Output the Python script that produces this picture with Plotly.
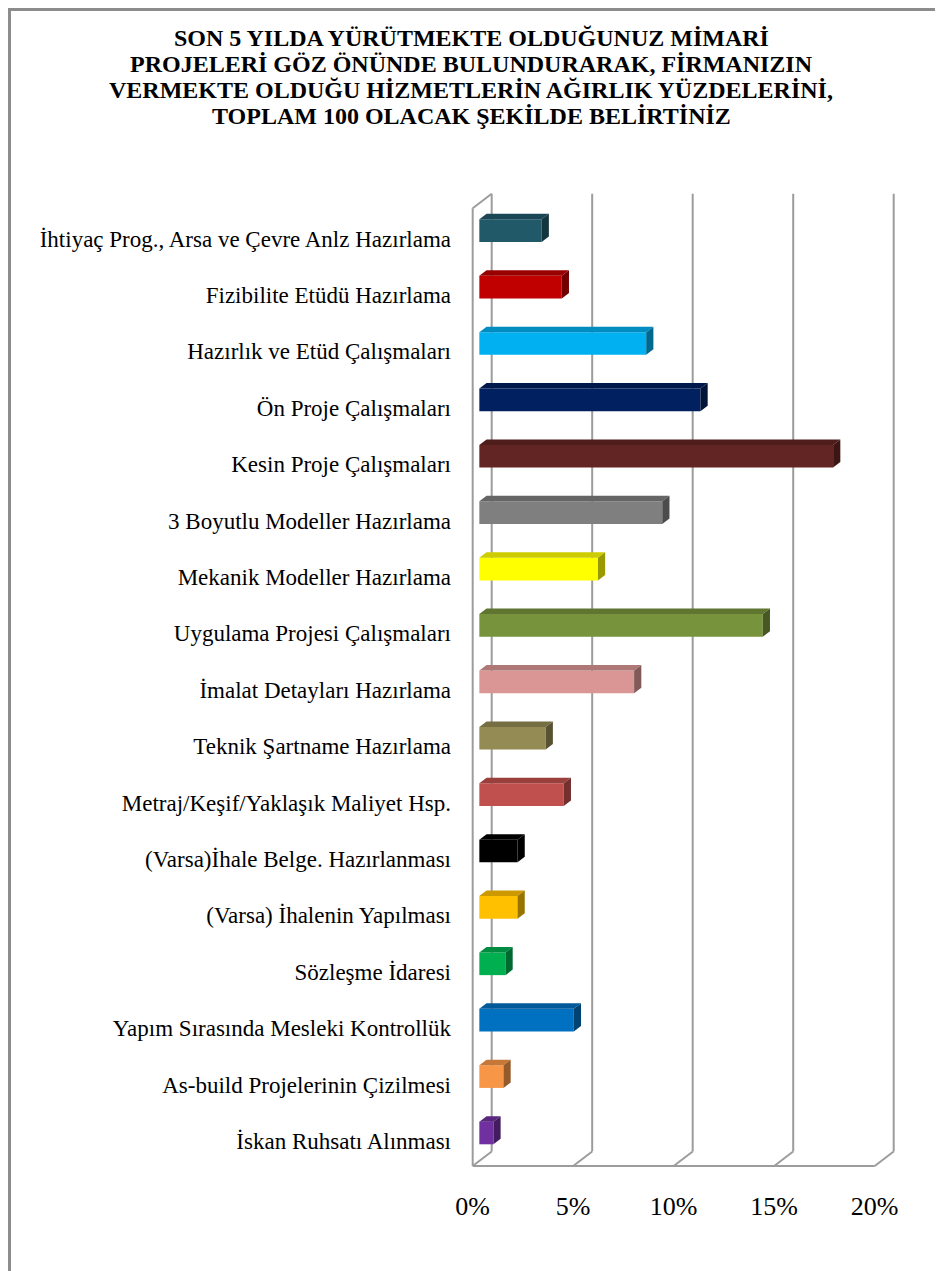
import plotly.graph_objects as go

# DATA
CATEGORIES = [
    'İhtiyaç Prog., Arsa ve Çevre Anlz Hazırlama',
    'Fizibilite Etüdü Hazırlama',
    'Hazırlık ve Etüd Çalışmaları',
    'Ön Proje Çalışmaları',
    'Kesin Proje Çalışmaları',
    '3 Boyutlu Modeller Hazırlama',
    'Mekanik Modeller Hazırlama',
    'Uygulama Projesi Çalışmaları',
    'İmalat Detayları Hazırlama',
    'Teknik Şartname Hazırlama',
    'Metraj/Keşif/Yaklaşık Maliyet Hsp.',
    '(Varsa)İhale Belge. Hazırlanması',
    '(Varsa) İhalenin Yapılması',
    'Sözleşme İdaresi',
    'Yapım Sırasında Mesleki Kontrollük',
    'As-build Projelerinin Çizilmesi',
    'İskan Ruhsatı Alınması',
]
VALUES = [3.1, 4.1, 8.3, 11.0, 17.6, 9.1, 5.9, 14.1, 7.7, 3.3, 4.2, 1.9, 1.9, 1.3, 4.7, 1.2, 0.7]
COLORS = ['#215968', '#C00000', '#00B0F0', '#002060', '#632523', '#7F7F7F', '#FFFF00', '#77933C',
          '#DA9694', '#948A54', '#C0504D', '#000000', '#FFC000', '#00B050', '#0070C0', '#F79646',
          '#7030A0']
TICKS = [0, 5, 10, 15, 20]
TITLE_LINES = [
    'SON 5 YILDA YÜRÜTMEKTE OLDUĞUNUZ MİMARİ',
    'PROJELERİ GÖZ ÖNÜNDE BULUNDURARAK, FİRMANIZIN',
    'VERMEKTE OLDUĞU HİZMETLERİN AĞIRLIK YÜZDELERİNİ,',
    'TOPLAM 100 OLACAK ŞEKİLDE BELİRTİNİZ',
]

FONT = 'Liberation Serif'
GRID = '#9C9C9C'

# 3D LOOK (axis units)
DX, DY = 0.945, 0.257          # full wall depth
BAR_OFF, BAR_DEPTH = 0.35, 0.38
HALF = 0.201


def shade(hexcol, k):
    r, g, b = int(hexcol[1:3], 16), int(hexcol[3:5], 16), int(hexcol[5:7], 16)
    return 'rgb(%d,%d,%d)' % (r * k, g * k, b * k)


n = len(CATEGORIES)
idx = list(range(n))
top_back = -0.654
floor_back = (n - 1) + 0.329
front_top = top_back + DY
floor_front = floor_back + DY
x0 = BAR_OFF * DX
bdx, bdy = BAR_DEPTH * DX, BAR_DEPTH * DY

fig = go.Figure()

# WALLS AND FLOOR
line = dict(color=GRID, width=2)
shapes = []
for t in TICKS:
    shapes.append(dict(type='line', x0=t + DX, y0=top_back, x1=t + DX, y1=floor_back, line=line, layer='below'))
    shapes.append(dict(type='line', x0=t + DX, y0=floor_back, x1=t, y1=floor_front, line=line, layer='below'))
shapes.append(dict(type='line', x0=0, y0=front_top, x1=0, y1=floor_front, line=line, layer='below'))
shapes.append(dict(type='line', x0=0, y0=front_top, x1=DX, y1=top_back, line=line, layer='below'))
shapes.append(dict(type='line', x0=TICKS[0], y0=floor_front, x1=TICKS[-1], y1=floor_front, line=line, layer='below'))

# OUTER BORDER
shapes.append(dict(type='rect', xref='paper', yref='paper', x0=-1.010, x1=1.12, y0=-0.12, y1=1.1705,
                   line=dict(color='#8C8C8C', width=3), layer='below'))

# FRONT FACES
fig.add_trace(go.Bar(y=idx, x=VALUES, base=x0, orientation='h', width=2 * HALF,
                     marker=dict(color=COLORS, line=dict(width=0)), hoverinfo='x+y'))

# TOP AND SIDE FACES
for i, (v, c) in enumerate(zip(VALUES, COLORS)):
    xr = x0 + v
    yt, yb = i - HALF, i + HALF
    fig.add_trace(go.Scatter(x=[x0, xr, xr + bdx, x0 + bdx, x0], y=[yt, yt, yt - bdy, yt - bdy, yt],
                             fill='toself', fillcolor=shade(c, 0.8), mode='lines', line=dict(width=0),
                             hoverinfo='skip'))
    fig.add_trace(go.Scatter(x=[xr, xr, xr + bdx, xr + bdx, xr], y=[yt, yb, yb - bdy, yt - bdy, yt],
                             fill='toself', fillcolor=shade(c, 0.6), mode='lines', line=dict(width=0),
                             hoverinfo='skip'))

# TITLE
for k, txt in enumerate(TITLE_LINES):
    fig.add_annotation(text='<b>' + txt + '</b>', xref='paper', yref='paper', x=0.0212, xanchor='center',
                       y=1.142 - 0.026 * k, yanchor='middle', showarrow=False,
                       font=dict(family=FONT, size=24, color='black'))

fig.update_layout(
    width=935, height=1263,
    margin=dict(l=454, r=33, t=172, b=91),
    paper_bgcolor='white', plot_bgcolor='white',
    showlegend=False,
    shapes=shapes,
    xaxis=dict(range=[-0.532, 21.756], showgrid=False, zeroline=False, showline=False,
               tickvals=TICKS, ticktext=['%d%%' % t for t in TICKS], ticks='',
               ticklabelstandoff=8,
               tickfont=dict(family=FONT, size=26, color='black'), automargin=False),
    yaxis=dict(range=[16.834, -0.899], showgrid=False, zeroline=False, showline=False,
               tickvals=[i + 0.14 for i in idx], ticktext=CATEGORIES, ticks='',
               ticklabelstandoff=10,
               tickfont=dict(family=FONT, size=23, color='black'), automargin=False),
)

fig.write_html('out.html')
